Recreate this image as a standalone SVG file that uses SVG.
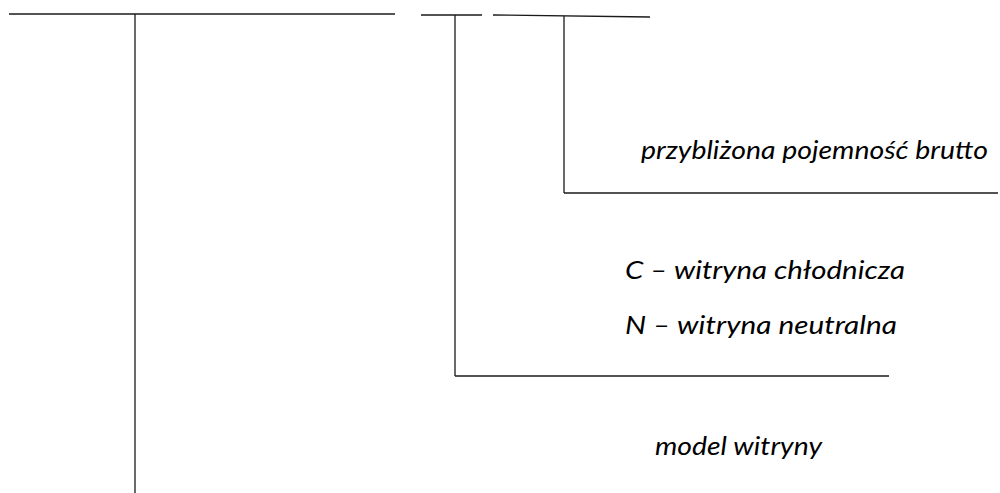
<svg xmlns="http://www.w3.org/2000/svg" width="1000" height="493" viewBox="0 0 1000 493">
  <style>
    .ln { stroke: #1a1a1a; stroke-width: 1.3; fill: none; }
    .lbl { font-family: Lato, "Open Sans", "Liberation Sans", sans-serif; font-style: italic; font-size: 25px; fill: #000; }
  </style>
  <rect width="1000" height="493" fill="#fff"/>
  <g id="connectors">
    <!-- model code field -->
    <line class="ln" x1="9" y1="14" x2="395" y2="14"/>
    <line class="ln" x1="135" y1="14" x2="135" y2="493"/>
    <!-- type letter field -->
    <line class="ln" x1="421" y1="15" x2="482" y2="15"/>
    <line class="ln" x1="455" y1="15" x2="455" y2="376"/>
    <line class="ln" x1="455" y1="376" x2="889" y2="376"/>
    <!-- capacity field -->
    <line class="ln" x1="493" y1="15" x2="650" y2="17"/>
    <line class="ln" x1="564" y1="16" x2="564" y2="193"/>
    <line class="ln" x1="564" y1="193" x2="998" y2="193"/>
  </g>
  <g id="capacity">
    <text class="lbl" x="641" y="159" textLength="347" lengthAdjust="spacingAndGlyphs">przybliżona pojemność brutto</text>
  </g>
  <g id="type">
    <text class="lbl" x="625" y="279" textLength="280" lengthAdjust="spacingAndGlyphs">C – witryna chłodnicza</text>
    <text class="lbl" x="625" y="334" textLength="272" lengthAdjust="spacingAndGlyphs">N – witryna neutralna</text>
  </g>
  <g id="model">
    <text class="lbl" x="655" y="455" textLength="167" lengthAdjust="spacingAndGlyphs">model witryny</text>
  </g>
</svg>
